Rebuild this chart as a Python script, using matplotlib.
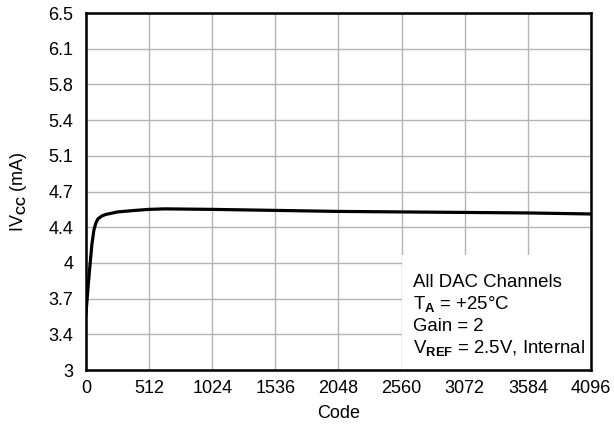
import matplotlib
matplotlib.use('Agg')
from matplotlib import pyplot as plt
from matplotlib.patches import Rectangle

# supply current vs. code
code = [0, 16, 32, 48, 64, 80, 96, 128, 160, 256, 400, 512, 640, 1024, 1536, 2048, 2560, 3072, 3584, 4096]
ivcc = [3.55, 3.80, 4.02, 4.23, 4.37, 4.44, 4.48, 4.51, 4.525, 4.55, 4.565, 4.575, 4.58, 4.575, 4.565, 4.555, 4.55, 4.545, 4.54, 4.53]

x_ticks = [0, 512, 1024, 1536, 2048, 2560, 3072, 3584, 4096]
y_ticks = [3.0, 3.35, 3.7, 4.05, 4.4, 4.75, 5.1, 5.45, 5.8, 6.15, 6.5]
y_tick_labels = ['3', '3.4', '3.7', '4', '4.4', '4.7', '5.1', '5.4', '5.8', '6.1', '6.5']

note_lines = ['All DAC Channels',
              r'T$_{\mathbf{A}}$ = +25°C',
              'Gain = 2',
              r'V$_{\mathbf{REF}}$ = 2.5V, Internal']

plt.rcParams['font.family'] = ['Liberation Sans', 'DejaVu Sans']
plt.rcParams['mathtext.fontset'] = 'custom'
plt.rcParams['mathtext.rm'] = 'Liberation Sans'
plt.rcParams['mathtext.it'] = 'Liberation Sans:italic'
plt.rcParams['mathtext.bf'] = 'Liberation Sans:bold'

fig = plt.figure(figsize=(6.14, 4.28), dpi=100)
ax = fig.add_axes([0.140, 0.1355, 0.8225, 0.834])

ax.plot(code, ivcc, color='black', linewidth=2.3, zorder=3)

ax.set_xlim(0, 4096)
ax.set_ylim(3, 6.5)
ax.set_xticks(x_ticks)
ax.set_yticks(y_ticks)
ax.set_yticklabels(y_tick_labels)
ax.tick_params(length=0, labelsize=13)
ax.tick_params(axis='y', pad=9)
ax.tick_params(axis='x', pad=7)
ax.grid(True, color='#b4b4b4', linewidth=1.0, zorder=0)
ax.set_axisbelow(True)
for s in ax.spines.values():
    s.set_linewidth(1.8)
    s.set_zorder(4)

ax.set_xlabel('Code', fontsize=13)
ax.set_ylabel(r'IV$_{\mathbf{CC}}$ (mA)', fontsize=13)
ax.xaxis.set_label_coords(0.5, -0.098)
ax.yaxis.set_label_coords(-0.112, 0.5)

# white box behind the conditions text
ax.add_patch(Rectangle((0.626, 0.0), 0.374, 0.322, transform=ax.transAxes,
                       facecolor='white', edgecolor='none', zorder=2))
y0 = 0.232
for i, line in enumerate(note_lines):
    ax.text(0.648, y0 - i * 0.061, line, transform=ax.transAxes, fontsize=13.4,
            ha='left', va='baseline', zorder=5)

plt.savefig('out.png', dpi=100)
plt.close()
